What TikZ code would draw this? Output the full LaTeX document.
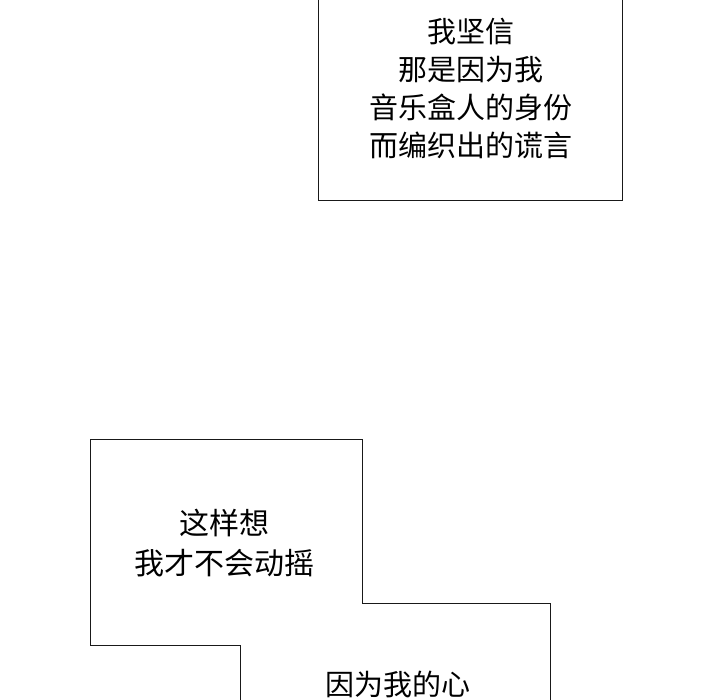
\documentclass[tikz,border=0pt]{standalone}
\usepackage{fontspec}
\setmainfont{Noto Sans CJK SC}[Scale=1]
\tikzset{caption/.style={font=\fontsize{29pt}{34pt}\selectfont, inner sep=0pt, anchor=center},
captionwide/.style={caption, font=\fontsize{30pt}{34pt}\selectfont},
panel/.style={draw=black!90, line width=1pt}}
\begin{document}
\begin{tikzpicture}[x=1pt,y=-1pt]
\useasboundingbox (0,0) rectangle (720,700);
\coordinate (a1) at (318,-2);
\coordinate (a2) at (318,200.5);
\coordinate (a3) at (622.5,200.5);
\coordinate (a4) at (622.5,-2);
\draw [panel] (a1)--(a2)--(a3)--(a4);
\node [caption] (top1) at (470.5,31.5) {我坚信};
\node [caption] (top2) at (470.5,69.5) {那是因为我};
\node [caption] (top3) at (470.5,107) {音乐盒人的身份};
\node [caption] (top4) at (470.5,145) {而编织出的谎言};
\coordinate (b1) at (240,702);
\coordinate (b2) at (240,645);
\coordinate (b3) at (90,645);
\coordinate (b4) at (90,439);
\coordinate (b5) at (362.5,439);
\coordinate (b6) at (362.5,603);
\coordinate (b7) at (550.3,603);
\coordinate (b8) at (550.3,702);
\draw [panel] (b1)--(b2)--(b3)--(b4)--(b5)--(b6)--(b7)--(b8);
\node [captionwide] (mid1) at (224,523) {这样想};
\node [captionwide] (mid2) at (224,563) {我才不会动摇};
\node [caption] (low1) at (398,684) {因为我的心};
\end{tikzpicture}
\end{document}
